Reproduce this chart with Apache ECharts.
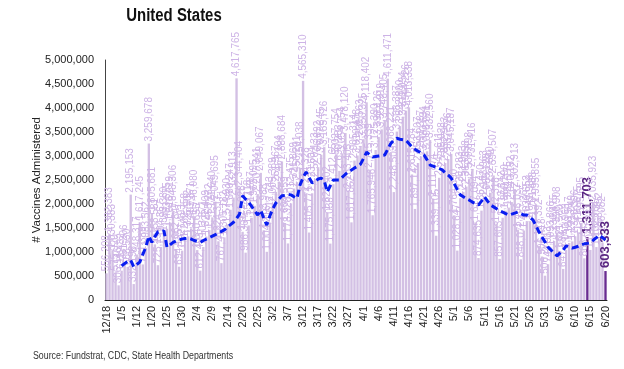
<!DOCTYPE html>
<html><head><meta charset="utf-8">
<script src="https://cdn.jsdelivr.net/npm/echarts@6/dist/echarts.min.js"></script>
<style>html,body{margin:0;padding:0;background:#fff}#c{width:624px;height:369px}</style>
</head><body><div id="c"></div>
<script>
const categories = ['12/18','12/21','12/23','12/28','12/30','1/5','1/7','1/8','1/9','1/11','1/12','1/13','1/14','1/15','1/19',
'1/20','1/21','1/22','1/23','1/24','1/25','1/26','1/27','1/28','1/29','1/30','1/31',
'2/1','2/2','2/3','2/4','2/5','2/6','2/7','2/8','2/9','2/10','2/11','2/12','2/13','2/14','2/15',
'2/17','2/18','2/19','2/20','2/21','2/22','2/23','2/24','2/25','2/26','2/27','2/28',
'3/1','3/2','3/3','3/4','3/5','3/6','3/7','3/8','3/9','3/10','3/11','3/12','3/13','3/14','3/15','3/16','3/17','3/18','3/19','3/20','3/21','3/22','3/23','3/24','3/25','3/26','3/27','3/28','3/29','3/30','3/31',
'4/1','4/2','4/3','4/4','4/5','4/6','4/7','4/8','4/9','4/10','4/11','4/12','4/13','4/14','4/15','4/16','4/17','4/18','4/19','4/20','4/21','4/22','4/23','4/24','4/25','4/26','4/27','4/28','4/29','4/30',
'5/1','5/2','5/3','5/4','5/5','5/6','5/7','5/8','5/9','5/10','5/11','5/12','5/13','5/14','5/15','5/16','5/17','5/18','5/19','5/20','5/21','5/22','5/23','5/24','5/25','5/26','5/27','5/28','5/29','5/30','5/31',
'6/1','6/2','6/3','6/4','6/5','6/6','6/7','6/8','6/9','6/10','6/11','6/12','6/13','6/14','6/15','6/16','6/17','6/18','6/19','6/20'];

const dailyDoses = [556208,1382383,1030383,575020,306146,611482,781206,688530,2195153,332196,948317,1617245,741389,1083562,3259678,
1805681,1158581,725194,1104367,1393380,1483675,1615219,1848306,1062847,694125,1027493,1262758,
1325902,1491371,1746080,1040655,612493,1103871,1322409,1455232,1721640,2049695,1224317,767413,1305182,1574930,1880247,
2132913,4617765,2344404,1421028,986364,1553118,1714687,1962095,2207341,2649067,1453988,1004216,
1612743,2005389,2251967,2467104,2886684,1604559,1178320,2012475,2321869,2456201,2754038,4565310,2214328,1405771,2223604,2520133,2766892,3027345,3185726,1821402,1175038,2412657,3027754,2690283,3054754,3478120,2283405,
1617862,2905314,3010478,3209563,3350325,4118402,2715339,1765946,3125390,3398126,3555919,3748405,4611471,3068221,2248503,3508387,3622800,3811094,3944226,4013338,2615784,1897142,2853607,2991387,3070694,3098031,3332560,2111874,1339105,2545611,
2735028,2852963,2937526,3045187,1764390,1028647,2120283,2251963,2363058,2530698,2731416,1617094,874635,1862470,2153963,2089128,2232840,2594507,1592318,857603,1713842,1860290,1924175,2040152,2302913,1466037,848072,1447265,1630652,1641903,1701488,
1995855,1127392,906418,506275,744913,1093866,1230475,1396908,1021560,647284,1040968,1188517,1221049,1328306,1410675,1595695,868442,1311703,1042381,2035923,1102764,1268492,1196082,603333];

const sevenDayAvg = [null,null,null,null,null,
710000,760000,800000,830000,690000,740000,790000,950000,1100000,1330000,
1200000,1320000,1420000,1430000,1440000,1100000,1150000,1200000,1230000,1250000,1270000,1280000,
1290000,1270000,1240000,1220000,1200000,1240000,1270000,1300000,1330000,1360000,1400000,1430000,1460000,1520000,1570000,
1620000,1700000,1790000,2170000,2100000,2040000,1950000,1860000,1770000,1870000,1700000,1560000,
1750000,1900000,2020000,2100000,2170000,2180000,2200000,2190000,2150000,2120000,2400000,2550000,2670000,2550000,2440000,2480000,2520000,2540000,2490000,2250000,2380000,2500000,2500000,2500000,2560000,2620000,2670000,
2710000,2750000,2790000,2830000,2950000,3080000,3030000,2980000,2990000,3000000,3010000,3020000,3140000,3260000,3330000,3370000,3350000,3340000,3330000,3260000,3190000,3140000,3100000,3060000,3020000,2920000,2810000,2790000,2760000,2740000,
2710000,2650000,2600000,2540000,2420000,2300000,2190000,2150000,2110000,2080000,2040000,2010000,1980000,2060000,2150000,2060000,1980000,1940000,1900000,1860000,1830000,1800000,1770000,1790000,1810000,1830000,1800000,1770000,1770000,1720000,1670000,
1550000,1420000,1310000,1210000,1100000,1040000,980000,920000,980000,1040000,1130000,1100000,1080000,1100000,1120000,1150000,1170000,1180000,1190000,1250000,1300000,1350000,1300000,1250000];

const highlightDates = ['6/14','6/20'];
const yMin = 0, yMax = 5000000, yStep = 500000;

const fmt = v => Number(v).toLocaleString('en-US');
const barData = dailyDoses.map((v, i) => highlightDates.includes(categories[i]) ? {
  value: v,
  itemStyle: { color: '#6a2c91' },
  label: { fontSize: 13, fontWeight: 'bold', color: '#5a2682', distance: 3 }
} : v);

const chart = echarts.init(document.getElementById('c'), null, { renderer: 'canvas' });
chart.setOption({
  animation: false,
  graphic: [
    { type: 'text', x: 174, y: 7, scaleX: 0.83, style: { text: 'United States', textAlign: 'center', font: 'bold 18px "Liberation Sans", Arial', fill: '#111' } },
    { type: 'text', x: 33, y: 351, scaleX: 0.88, style: { text: 'Source: Fundstrat, CDC, State Health Departments', font: '10px "Liberation Sans", Arial', fill: '#333' } }
  ],
  grid: { left: 105, right: 17, top: 60, bottom: 69 },
  xAxis: {
    type: 'category', data: categories,
    axisTick: { show: false },
    axisLine: { lineStyle: { color: '#222', width: 1 } },
    axisLabel: { interval: 4, rotate: 90, fontSize: 11, color: '#222', margin: 6, fontFamily: '"Liberation Sans", Arial' }
  },
  yAxis: {
    type: 'value', min: yMin, max: yMax, interval: yStep,
    axisLine: { show: true, lineStyle: { color: '#444' } },
    axisTick: { show: false },
    splitLine: { show: false },
    axisLabel: { formatter: v => fmt(v), fontSize: 11, color: '#222', margin: 11, fontFamily: '"Liberation Sans", Arial' },
    name: '# Vaccines Administered', nameLocation: 'middle', nameGap: 62, nameMoveOverlap: false,
    nameTextStyle: { fontSize: 11.5, color: '#222', fontFamily: '"Liberation Sans", Arial' }
  },
  series: [
    {
      type: 'bar', data: barData, barCategoryGap: '22%',
      itemStyle: { color: '#d3c0e4' },
      label: {
        show: true, position: 'top', rotate: 90, align: 'left', verticalAlign: 'middle', distance: 2,
        fontSize: 10, color: '#cdb3e6', fontFamily: '"Liberation Sans", Arial',
        formatter: p => fmt(p.value)
      }
    },
    {
      type: 'line', data: sevenDayAvg, symbol: 'none', z: 5,
      lineStyle: { color: '#0a1ef0', width: 3, type: [7, 4] }
    }
  ]
});
</script>
</body></html>
